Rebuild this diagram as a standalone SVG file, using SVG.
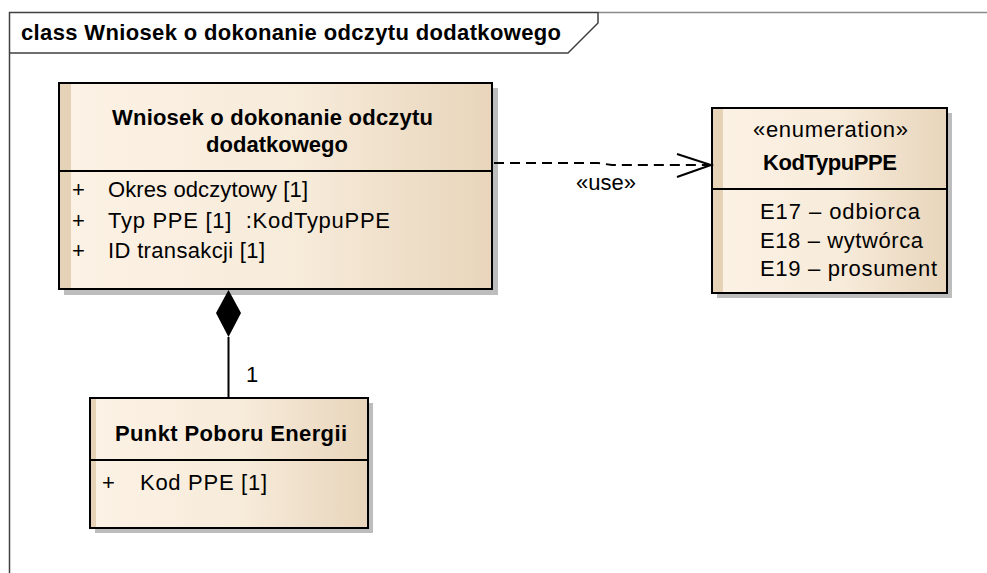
<svg xmlns="http://www.w3.org/2000/svg" width="987" height="573" viewBox="0 0 987 573">
<style>
text{font-family:"Liberation Sans",Arial,sans-serif;font-size:22px;fill:#000}
.b{font-weight:bold}
.m{text-anchor:middle}
.box{stroke:#000;stroke-width:2}
.shadow{fill:#bdbdbd}
.div{stroke:#000;stroke-width:2}
.conn{stroke:#000;stroke-width:2;fill:none}
</style>
<defs>
<linearGradient id="g" x1="0" y1="0" x2="1" y2="0">
<stop offset="0" stop-color="#fcf2e5"/>
<stop offset="0.55" stop-color="#f7ebda"/>
<stop offset="1" stop-color="#e8d5bb"/>
</linearGradient>
</defs>
<rect width="987" height="573" fill="#fff"/>
<g id="frame">
<line x1="598" y1="12.5" x2="987" y2="12.5" stroke="#8a8a8a" stroke-width="1.5"/>
<path d="M9.5,573 V12.5 H598 V23 L568,53 H9.5" fill="none" stroke="#404040" stroke-width="1.5"/>
<text class="b" x="21" y="40" textLength="540" lengthAdjust="spacing">class Wniosek o dokonanie odczytu dodatkowego</text>
</g>
<g id="wniosek">
<rect class="shadow" x="64" y="88" width="434" height="207"/>
<rect x="59" y="83" width="433" height="206" fill="url(#g)"/>
<rect x="60" y="84" width="11" height="204" fill="#e5d2b7"/>
<rect class="box" x="59" y="83" width="433" height="206" fill="none"/>
<line class="div" x1="59" y1="171" x2="492" y2="171"/>
<text class="b m" x="272.5" y="125" textLength="321" lengthAdjust="spacing">Wniosek o dokonanie odczytu</text>
<text class="b m" x="277" y="152" textLength="142" lengthAdjust="spacing">dodatkowego</text>
<text x="72" y="197">+</text><text x="108" y="197" textLength="200" lengthAdjust="spacing">Okres odczytowy [1]</text>
<text x="72" y="228">+</text><text x="108" y="228" textLength="282" lengthAdjust="spacing">Typ PPE [1]&#160; :KodTypuPPE</text>
<text x="72" y="258">+</text><text x="108" y="258" textLength="157" lengthAdjust="spacing">ID transakcji [1]</text>
</g>
<g id="kodtypuppe">
<rect class="shadow" x="717" y="113" width="235" height="185"/>
<rect x="712" y="108" width="235" height="185" fill="url(#g)"/>
<rect x="713" y="109" width="10" height="183" fill="#e5d2b7"/>
<rect class="box" x="712" y="108" width="235" height="185" fill="none"/>
<line class="div" x1="712" y1="189" x2="947" y2="189"/>
<text class="m" x="830.5" y="137" textLength="155" lengthAdjust="spacing">«enumeration»</text>
<text class="b m" x="830" y="170" textLength="134" lengthAdjust="spacing">KodTypuPPE</text>
<text x="760" y="219" textLength="160" lengthAdjust="spacing">E17 – odbiorca</text>
<text x="760" y="248" textLength="163" lengthAdjust="spacing">E18 – wytwórca</text>
<text x="760" y="276" textLength="177" lengthAdjust="spacing">E19 – prosument</text>
</g>
<g id="punkt">
<rect class="shadow" x="95" y="403" width="278" height="130"/>
<rect x="90" y="398" width="278" height="130" fill="url(#g)"/>
<rect x="91" y="399" width="5" height="128" fill="#e5d2b7"/>
<rect class="box" x="90" y="398" width="278" height="130" fill="none"/>
<line class="div" x1="90" y1="460" x2="368" y2="460"/>
<text class="b m" x="231" y="441" textLength="232" lengthAdjust="spacing">Punkt Poboru Energii</text>
<text x="102" y="490">+</text><text x="140" y="490" textLength="127" lengthAdjust="spacing">Kod PPE [1]</text>
</g>
<g id="connectors">
<path class="conn" d="M494,163 H598 L612,165 H710" stroke-dasharray="10 6"/>
<path class="conn" d="M677,154 L711,165 L677,177"/>
<text class="m" x="606" y="190" textLength="60" lengthAdjust="spacing">«use»</text>
<path d="M228.5,290 L241,313 L228.5,337 L216,313 Z" fill="#000"/>
<line class="conn" x1="228.5" y1="337" x2="228.5" y2="398"/>
<text x="246" y="382">1</text>
</g>
</svg>
